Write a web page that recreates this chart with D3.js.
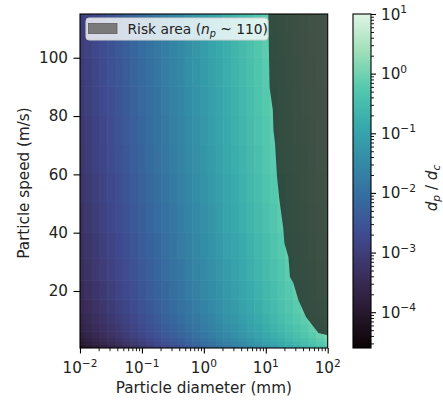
<!DOCTYPE html>
<html><head><meta charset="utf-8">
<script src="https://cdn.jsdelivr.net/npm/d3@7"></script>
<style>
body{margin:0;background:#fff}
text{font-family:"DejaVu Sans",sans-serif;fill:#222}
</style>
</head><body>
<svg id="c" width="443" height="400"></svg>
<script>
// ---- data ----
// log10 of particle diameter (mm) at the centre of each heatmap column
const diameterLog = [-2,-1.875,-1.75,-1.625,-1.5,-1.375,-1.25,-1.125,-1,-0.875,-0.75,-0.625,-0.5,-0.375,-0.25,-0.125,
  0,0.125,0.25,0.375,0.5,0.625,0.75,0.875,1,1.125,1.25,1.375,1.5,1.625,1.75,1.875,2];
// particle speed (m/s) at the centre of each heatmap row
const speeds = [1,2,3,5,7,10,14,20,27,35,45,55,65,75,85,95,105,113];
// log10(dp/dc), one row per speed (bottom to top), one value per diameter
const ratioLog = [
 [-4.10,-3.98,-3.86,-3.74,-3.63,-3.51,-3.39,-3.27,-3.15,-3.03,-2.91,-2.79,-2.68,-2.56,-2.44,-2.32,-2.20,-2.08,-1.96,-1.84,-1.73,-1.61,-1.49,-1.37,-1.25,-1.13,-1.01,-0.89,-0.77,-0.66,-0.54,-0.42,-0.30],
 [-3.95,-3.83,-3.71,-3.59,-3.48,-3.36,-3.24,-3.12,-3.00,-2.88,-2.76,-2.64,-2.53,-2.41,-2.29,-2.17,-2.05,-1.93,-1.81,-1.69,-1.58,-1.46,-1.34,-1.22,-1.10,-0.98,-0.86,-0.74,-0.62,-0.51,-0.39,-0.27,-0.15],
 [-3.86,-3.74,-3.62,-3.50,-3.39,-3.27,-3.15,-3.03,-2.91,-2.79,-2.67,-2.55,-2.44,-2.32,-2.20,-2.08,-1.96,-1.84,-1.72,-1.60,-1.49,-1.37,-1.25,-1.13,-1.01,-0.89,-0.77,-0.65,-0.53,-0.42,-0.30,-0.18,-0.06],
 [-3.75,-3.63,-3.51,-3.39,-3.28,-3.16,-3.04,-2.92,-2.80,-2.68,-2.56,-2.44,-2.33,-2.21,-2.09,-1.97,-1.85,-1.73,-1.61,-1.49,-1.38,-1.26,-1.14,-1.02,-0.90,-0.78,-0.66,-0.54,-0.42,-0.31,-0.19,-0.07, 0.05],
 [-3.68,-3.56,-3.44,-3.32,-3.21,-3.09,-2.97,-2.85,-2.73,-2.61,-2.49,-2.37,-2.26,-2.14,-2.02,-1.90,-1.78,-1.66,-1.54,-1.42,-1.31,-1.19,-1.07,-0.95,-0.83,-0.71,-0.59,-0.47,-0.35,-0.24,-0.12, 0.00, 0.12],
 [-3.60,-3.48,-3.36,-3.24,-3.13,-3.01,-2.89,-2.77,-2.65,-2.53,-2.41,-2.29,-2.18,-2.06,-1.94,-1.82,-1.70,-1.58,-1.46,-1.34,-1.23,-1.11,-0.99,-0.87,-0.75,-0.63,-0.51,-0.39,-0.27,-0.16,-0.04, 0.08, 0.20],
 [-3.52,-3.40,-3.28,-3.16,-3.05,-2.93,-2.81,-2.69,-2.57,-2.45,-2.33,-2.21,-2.10,-1.98,-1.86,-1.74,-1.62,-1.50,-1.38,-1.26,-1.15,-1.03,-0.91,-0.79,-0.67,-0.55,-0.43,-0.31,-0.19,-0.08, 0.04, 0.16, 0.28],
 [-3.45,-3.33,-3.21,-3.09,-2.98,-2.86,-2.74,-2.62,-2.50,-2.38,-2.26,-2.14,-2.03,-1.91,-1.79,-1.67,-1.55,-1.43,-1.31,-1.19,-1.08,-0.96,-0.84,-0.72,-0.60,-0.48,-0.36,-0.24,-0.12,-0.01, 0.11, 0.23, 0.35],
 [-3.39,-3.27,-3.15,-3.03,-2.92,-2.80,-2.68,-2.56,-2.44,-2.32,-2.20,-2.08,-1.97,-1.85,-1.73,-1.61,-1.49,-1.37,-1.25,-1.13,-1.02,-0.90,-0.78,-0.66,-0.54,-0.42,-0.30,-0.18,-0.06, 0.05, 0.17, 0.29, 0.41],
 [-3.33,-3.21,-3.09,-2.97,-2.86,-2.74,-2.62,-2.50,-2.38,-2.26,-2.14,-2.02,-1.91,-1.79,-1.67,-1.55,-1.43,-1.31,-1.19,-1.07,-0.96,-0.84,-0.72,-0.60,-0.48,-0.36,-0.24,-0.12, 0.00, 0.11, 0.23, 0.35, 0.47],
 [-3.27,-3.15,-3.03,-2.91,-2.80,-2.68,-2.56,-2.44,-2.32,-2.20,-2.08,-1.96,-1.85,-1.73,-1.61,-1.49,-1.37,-1.25,-1.13,-1.01,-0.90,-0.78,-0.66,-0.54,-0.42,-0.30,-0.18,-0.06, 0.06, 0.17, 0.29, 0.41, 0.53],
 [-3.22,-3.10,-2.98,-2.86,-2.75,-2.63,-2.51,-2.39,-2.27,-2.15,-2.03,-1.91,-1.80,-1.68,-1.56,-1.44,-1.32,-1.20,-1.08,-0.96,-0.85,-0.73,-0.61,-0.49,-0.37,-0.25,-0.13,-0.01, 0.11, 0.22, 0.34, 0.46, 0.58],
 [-3.17,-3.05,-2.93,-2.81,-2.70,-2.58,-2.46,-2.34,-2.22,-2.10,-1.98,-1.86,-1.75,-1.63,-1.51,-1.39,-1.27,-1.15,-1.03,-0.91,-0.80,-0.68,-0.56,-0.44,-0.32,-0.20,-0.08, 0.04, 0.16, 0.27, 0.39, 0.51, 0.63],
 [-3.13,-3.01,-2.89,-2.77,-2.66,-2.54,-2.42,-2.30,-2.18,-2.06,-1.94,-1.82,-1.71,-1.59,-1.47,-1.35,-1.23,-1.11,-0.99,-0.87,-0.76,-0.64,-0.52,-0.40,-0.28,-0.16,-0.04, 0.08, 0.20, 0.31, 0.43, 0.55, 0.67],
 [-3.10,-2.98,-2.86,-2.74,-2.63,-2.51,-2.39,-2.27,-2.15,-2.03,-1.91,-1.79,-1.68,-1.56,-1.44,-1.32,-1.20,-1.08,-0.96,-0.84,-0.73,-0.61,-0.49,-0.37,-0.25,-0.13,-0.01, 0.11, 0.23, 0.34, 0.46, 0.58, 0.70],
 [-3.06,-2.94,-2.82,-2.70,-2.59,-2.47,-2.35,-2.23,-2.11,-1.99,-1.87,-1.75,-1.64,-1.52,-1.40,-1.28,-1.16,-1.04,-0.92,-0.80,-0.69,-0.57,-0.45,-0.33,-0.21,-0.09, 0.03, 0.15, 0.27, 0.38, 0.50, 0.62, 0.74],
 [-3.03,-2.91,-2.79,-2.67,-2.56,-2.44,-2.32,-2.20,-2.08,-1.96,-1.84,-1.72,-1.61,-1.49,-1.37,-1.25,-1.13,-1.01,-0.89,-0.77,-0.66,-0.54,-0.42,-0.30,-0.18,-0.06, 0.06, 0.18, 0.30, 0.41, 0.53, 0.65, 0.77],
 [-3.00,-2.88,-2.76,-2.64,-2.53,-2.41,-2.29,-2.17,-2.05,-1.93,-1.81,-1.69,-1.58,-1.46,-1.34,-1.22,-1.10,-0.98,-0.86,-0.74,-0.63,-0.51,-0.39,-0.27,-0.15,-0.03, 0.09, 0.21, 0.33, 0.44, 0.56, 0.68, 0.80]
];
// boundary of the risk area: speed (m/s) and diameter (mm)
const riskSpeed    = [115, 90, 82, 75.2, 70.7, 59.1, 51.2, 41.9, 36.4, 31.7, 24.8, 22.7, 16.9, 11.1, 5.6, 4.9, 4.3];
const riskDiameter = [11.0, 11.5, 13.0, 13.3, 14.1, 15.2, 16.6, 19.1, 20.0, 23.2, 24.6, 27.9, 33.6, 44.7, 70.7, 96.6, 100];
// tick labels
const xTickExp = [-2,-1,0,1,2];
const yTicks = [20,40,60,80,100];
const cbTickExp = [-4,-3,-2,-1,0,1];
// colormap ("mako")
const makoStops = ["#0B0405","#28192F","#3B2F5E","#40498E","#366A9F","#348AA6","#38AAAC","#54C9AD","#A0DFB9","#DEF5E5"];

// ---- drawing ----
const svg = d3.select("#c");
const L = 80, R = 327.7, T = 14, B = 348;
const x = d3.scaleLog().domain([0.01, 100]).range([L, R]);
const y = d3.scaleLinear().domain([0.45, 115]).range([B, T]);
const mako = d3.piecewise(d3.interpolateRgb, makoStops);
const color = d3.scaleSequentialLog(mako).domain([Math.pow(10, -4.6), 10]);
const fs = 15.2;

const diam = diameterLog.map(l => Math.pow(10, l));
const xEdges = [x.domain()[0]];
for (let i = 1; i < diam.length; i++) xEdges.push(Math.sqrt(diam[i-1] * diam[i]));
xEdges.push(x.domain()[1]);
const yEdges = [y.domain()[0]];
for (let i = 1; i < speeds.length; i++) yEdges.push((speeds[i-1] + speeds[i]) / 2);
yEdges.push(y.domain()[1]);

const cells = [];
ratioLog.forEach((row, r) => row.forEach((e, c) => cells.push({r, c, v: Math.pow(10, e)})));

svg.append("defs").append("clipPath").attr("id", "plot")
  .append("rect").attr("x", L).attr("y", T).attr("width", R - L).attr("height", B - T);

const gp = svg.append("g").attr("clip-path", "url(#plot)");
gp.selectAll("rect.cell").data(cells).join("rect").attr("class", "cell")
  .attr("x", d => x(xEdges[d.c]))
  .attr("width", d => x(xEdges[d.c + 1]) - x(xEdges[d.c]) + 0.6)
  .attr("y", d => y(yEdges[d.r + 1]) - 0.6)
  .attr("height", d => y(yEdges[d.r]) - y(yEdges[d.r + 1]) + 0.6)
  .attr("fill", d => color(d.v));

// risk area
const riskPts = riskSpeed.map((s, i) => [riskDiameter[i], s]);
riskPts.push([x.domain()[1], y.domain()[1]]);
gp.append("path")
  .attr("d", d3.line().x(d => x(d[0])).y(d => y(d[1]))(riskPts) + "Z")
  .attr("fill", "#242c25").attr("fill-opacity", 0.8);

// frame
svg.append("rect").attr("x", L).attr("y", T).attr("width", R - L).attr("height", B - T)
  .attr("fill", "none").attr("stroke", "#000").attr("stroke-width", 1.1);

// x axis
const xMajor = xTickExp.map(e => Math.pow(10, e));
const xMinor = [];
for (let e = -2; e < 2; e++) for (let k = 2; k <= 9; k++) xMinor.push(k * Math.pow(10, e));
function styleAxis(g) { g.select(".domain").remove(); g.selectAll("line").attr("stroke", "#000").attr("stroke-width", 1.1); }
svg.append("g").attr("transform", `translate(0,${B})`)
  .call(d3.axisBottom(x).tickValues(xMinor).tickSize(3.2).tickFormat("")).call(styleAxis)
  .selectAll("line").attr("stroke-width", 0.9);
svg.append("g").attr("transform", `translate(0,${B})`)
  .call(d3.axisBottom(x).tickValues(xMajor).tickSize(5.5).tickFormat("")).call(styleAxis);
xTickExp.forEach(e => {
  const t = svg.append("text").attr("x", x(Math.pow(10, e))).attr("y", 373.3)
    .attr("text-anchor", "middle").attr("font-size", fs);
  t.append("tspan").text("10");
  t.append("tspan").attr("dy", -6.5).attr("font-size", 10.6).text(e < 0 ? "\u2212" + (-e) : String(e));
});
svg.append("text").attr("x", (L + R) / 2).attr("y", 393).attr("text-anchor", "middle")
  .attr("font-size", fs).text("Particle diameter (mm)");

// y axis
const gy = svg.append("g").attr("transform", `translate(${L},0)`)
  .call(d3.axisLeft(y).tickValues(yTicks).tickSize(6.5).tickPadding(5.5).tickFormat(d3.format("d")))
  .call(styleAxis);
gy.selectAll("text").attr("font-size", fs).attr("font-family", "DejaVu Sans").attr("fill", "#222");
svg.append("text").attr("transform", `translate(29,183) rotate(-90)`).attr("text-anchor", "middle")
  .attr("font-size", fs).text("Particle speed (m/s)");

// legend
const lg = svg.append("g");
lg.append("rect").attr("x", 86).attr("y", 18).attr("width", 182).attr("height", 22).attr("rx", 3)
  .attr("fill", "#fff").attr("fill-opacity", 0.8).attr("stroke", "#d0d0d0").attr("stroke-width", 1);
lg.append("rect").attr("x", 88.5).attr("y", 23.5).attr("width", 28.5).attr("height", 10)
  .attr("fill", "#7a7a7a").attr("stroke", "#5c5c5c").attr("stroke-width", 0.8);
const lt = lg.append("text").attr("x", 127.5).attr("y", 34).attr("font-size", 13.8);
lt.append("tspan").text("Risk area (");
lt.append("tspan").attr("font-style", "italic").text("n");
lt.append("tspan").attr("font-style", "italic").attr("font-size", 9.6).attr("dy", 3).text("p");
lt.append("tspan").attr("dy", -3).text(" ~ 110)");

// colorbar
const cbL = 353, cbR = 371;
const cbY = d3.scaleLog().domain(color.domain()).range([B, T]);
const grad = svg.select("defs").append("linearGradient").attr("id", "cbg")
  .attr("x1", 0).attr("x2", 0).attr("y1", 1).attr("y2", 0);
d3.range(0, 1.0001, 0.02).forEach(t => {
  grad.append("stop").attr("offset", t).attr("stop-color", color(cbY.invert(B - t * (B - T))));
});
svg.append("rect").attr("x", cbL).attr("y", T).attr("width", cbR - cbL).attr("height", B - T)
  .attr("fill", "url(#cbg)").attr("stroke", "#000").attr("stroke-width", 1.1);
const cbMajor = cbTickExp.map(e => Math.pow(10, e));
const cbMinor = [];
for (let e = -5; e < 1; e++) for (let k = 2; k <= 9; k++) {
  const v = k * Math.pow(10, e);
  if (v >= color.domain()[0] && v <= color.domain()[1]) cbMinor.push(v);
}
svg.append("g").attr("transform", `translate(${cbR},0)`)
  .call(d3.axisRight(cbY).tickValues(cbMinor).tickSize(3).tickFormat("")).call(styleAxis)
  .selectAll("line").attr("stroke-width", 0.9);
svg.append("g").attr("transform", `translate(${cbR},0)`)
  .call(d3.axisRight(cbY).tickValues(cbMajor).tickSize(5).tickFormat("")).call(styleAxis);
cbTickExp.forEach(e => {
  const t = svg.append("text").attr("x", 381).attr("y", cbY(Math.pow(10, e)) + 5.5)
    .attr("font-size", fs);
  t.append("tspan").text("10");
  t.append("tspan").attr("dy", -6.5).attr("font-size", 10.6).text(e < 0 ? "\u2212" + (-e) : String(e));
});
const cl = svg.append("text").attr("transform", `translate(437,188) rotate(-90)`)
  .attr("text-anchor", "middle").attr("font-size", fs);
cl.append("tspan").attr("font-style", "italic").text("d");
cl.append("tspan").attr("font-style", "italic").attr("font-size", 10.6).attr("dy", 3).text("p");
cl.append("tspan").attr("dy", -3).text(" / ");
cl.append("tspan").attr("font-style", "italic").text("d");
cl.append("tspan").attr("font-style", "italic").attr("font-size", 10.6).attr("dy", 3).text("c");
</script>
</body></html>
